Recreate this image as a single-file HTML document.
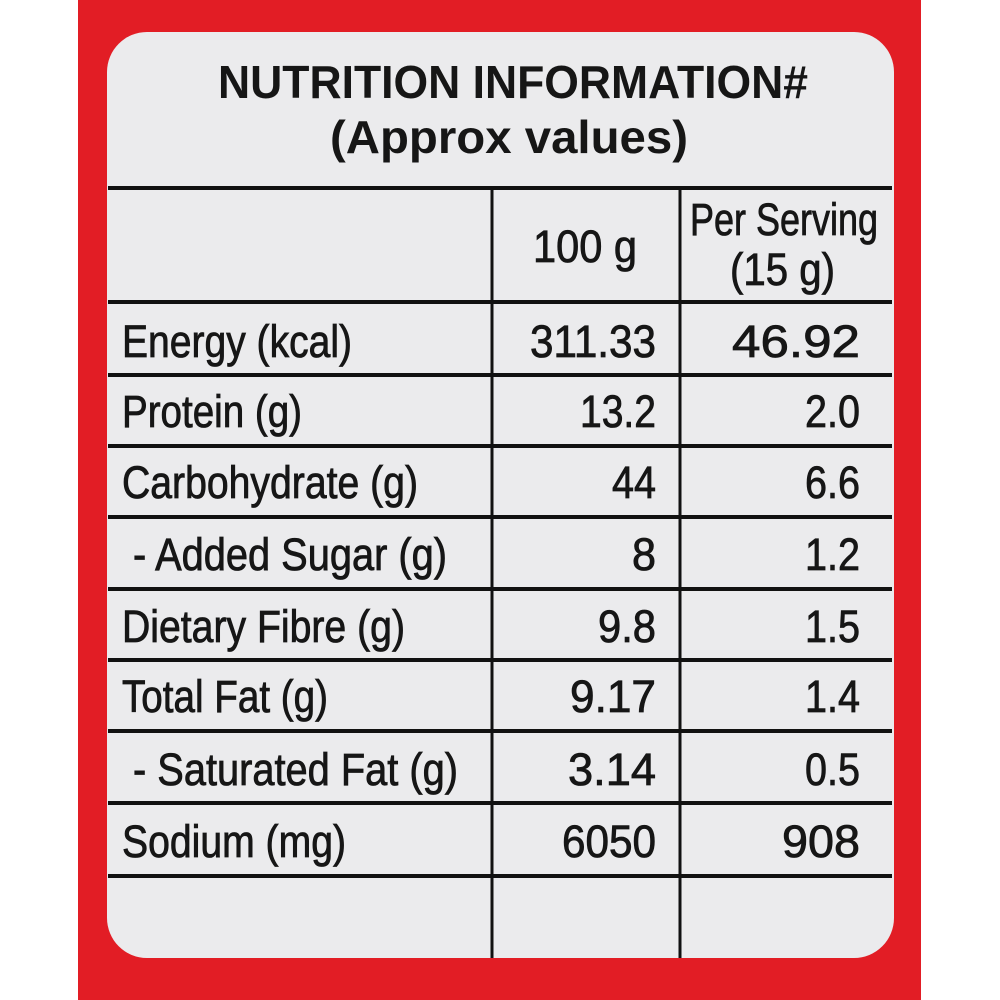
<!DOCTYPE html>
<html><head><meta charset="utf-8"><style>
html,body{margin:0;padding:0;background:#fff;}
svg{display:block}
text{font-family:"Liberation Sans",sans-serif;fill:#161616;}
.b text{stroke:#161616;stroke-width:0.8px;}
</style></head><body>
<svg width="1000" height="1000" viewBox="0 0 1000 1000" xmlns="http://www.w3.org/2000/svg">
<rect x="0" y="0" width="1000" height="1000" fill="#ffffff"/>
<rect x="78" y="0" width="843" height="1000" fill="#e21d25"/>
<rect x="107" y="32" width="787" height="926" rx="40" ry="40" fill="#ebebed"/>
<g font-weight="bold" font-size="46">
<text x="218" y="98" textLength="590" lengthAdjust="spacingAndGlyphs">NUTRITION INFORMATION#</text>
<text x="330" y="153" textLength="358" lengthAdjust="spacingAndGlyphs">(Approx values)</text>
</g>
<g stroke="#111" stroke-width="4" fill="none">
<line x1="108" y1="188" x2="892" y2="188"/>
<line x1="108" y1="302" x2="892" y2="302"/>
<line x1="108" y1="375" x2="892" y2="375"/>
<line x1="108" y1="446" x2="892" y2="446"/>
<line x1="108" y1="517" x2="892" y2="517"/>
<line x1="108" y1="589" x2="892" y2="589"/>
<line x1="108" y1="660" x2="892" y2="660"/>
<line x1="108" y1="731" x2="892" y2="731"/>
<line x1="108" y1="803" x2="892" y2="803"/>
<line x1="108" y1="876" x2="892" y2="876"/>
<line x1="492" y1="188" x2="492" y2="958" stroke-width="3"/>
<line x1="680" y1="188" x2="680" y2="958" stroke-width="3"/>
</g>
<g font-size="45" class="b">
<text x="533" y="262" textLength="104" lengthAdjust="spacingAndGlyphs">100 g</text>
<text x="690" y="235" textLength="188" lengthAdjust="spacingAndGlyphs">Per Serving</text>
<text x="730" y="285" textLength="105" lengthAdjust="spacingAndGlyphs">(15 g)</text>

<text x="122" y="357" textLength="230" lengthAdjust="spacingAndGlyphs">Energy (kcal)</text>
<text x="122" y="427" textLength="180" lengthAdjust="spacingAndGlyphs">Protein (g)</text>
<text x="122" y="498" textLength="296" lengthAdjust="spacingAndGlyphs">Carbohydrate (g)</text>
<text x="133" y="570" textLength="314" lengthAdjust="spacingAndGlyphs">- Added Sugar (g)</text>
<text x="122" y="642" textLength="283" lengthAdjust="spacingAndGlyphs">Dietary Fibre (g)</text>
<text x="122" y="712" textLength="206" lengthAdjust="spacingAndGlyphs">Total Fat (g)</text>
<text x="133" y="785" textLength="325" lengthAdjust="spacingAndGlyphs">- Saturated Fat (g)</text>
<text x="122" y="857" textLength="224" lengthAdjust="spacingAndGlyphs">Sodium (mg)</text>

<g text-anchor="end">
<text x="656" y="357" textLength="126" lengthAdjust="spacingAndGlyphs">311.33</text>
<text x="656" y="427" textLength="76" lengthAdjust="spacingAndGlyphs">13.2</text>
<text x="656" y="498" textLength="44" lengthAdjust="spacingAndGlyphs">44</text>
<text x="656" y="570" textLength="24" lengthAdjust="spacingAndGlyphs">8</text>
<text x="656" y="642" textLength="58" lengthAdjust="spacingAndGlyphs">9.8</text>
<text x="656" y="712" textLength="86" lengthAdjust="spacingAndGlyphs">9.17</text>
<text x="656" y="785" textLength="88" lengthAdjust="spacingAndGlyphs">3.14</text>
<text x="656" y="857" textLength="94" lengthAdjust="spacingAndGlyphs">6050</text>

<text x="860" y="357" textLength="128" lengthAdjust="spacingAndGlyphs">46.92</text>
<text x="860" y="427" textLength="55" lengthAdjust="spacingAndGlyphs">2.0</text>
<text x="860" y="498" textLength="55" lengthAdjust="spacingAndGlyphs">6.6</text>
<text x="860" y="570" textLength="55" lengthAdjust="spacingAndGlyphs">1.2</text>
<text x="860" y="642" textLength="55" lengthAdjust="spacingAndGlyphs">1.5</text>
<text x="860" y="712" textLength="55" lengthAdjust="spacingAndGlyphs">1.4</text>
<text x="860" y="785" textLength="55" lengthAdjust="spacingAndGlyphs">0.5</text>
<text x="860" y="857" textLength="78" lengthAdjust="spacingAndGlyphs">908</text>
</g>
</g>
</svg>
</body></html>
